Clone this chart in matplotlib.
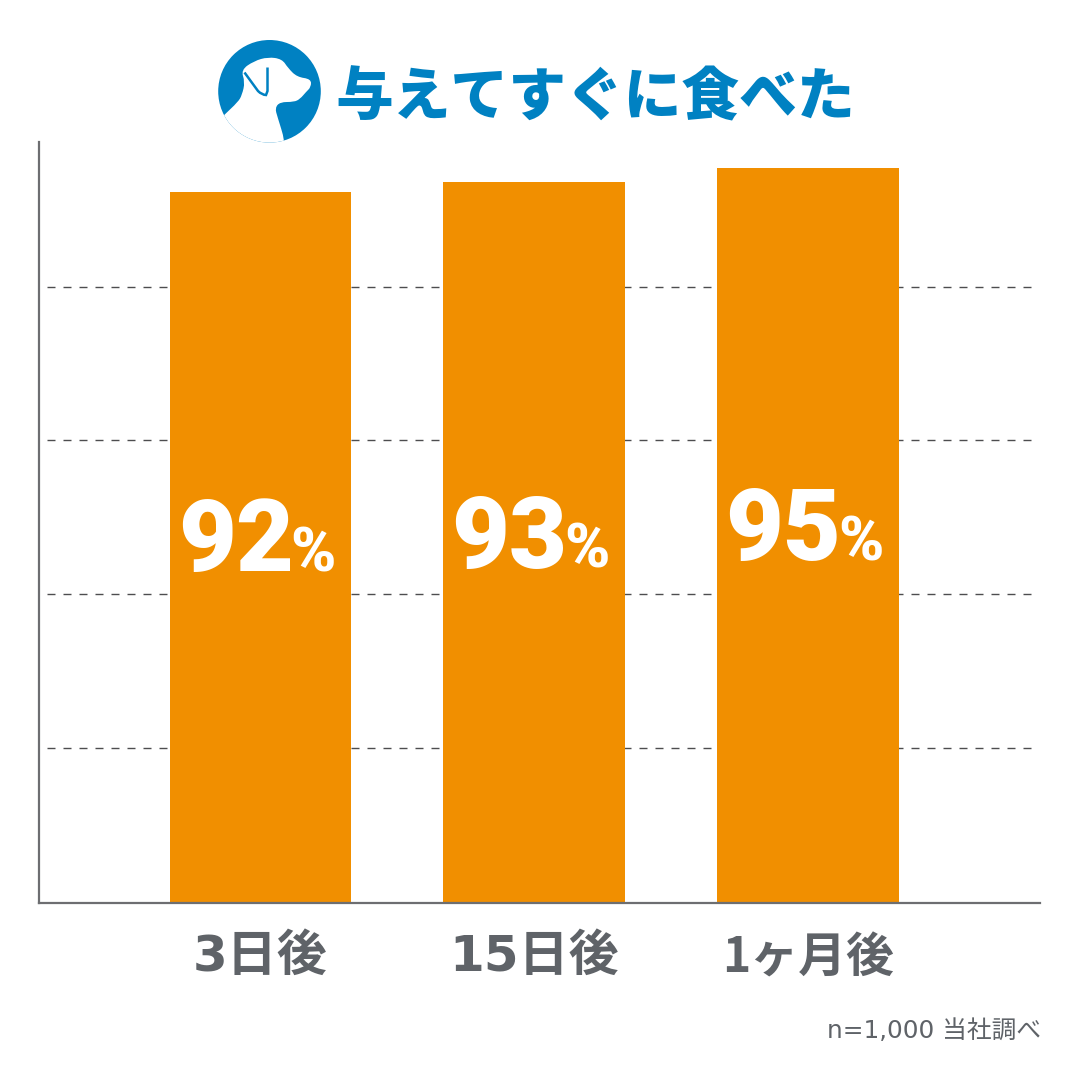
import matplotlib
matplotlib.use('Agg')
import matplotlib.pyplot as plt
from matplotlib.path import Path
from matplotlib.patches import Circle, PathPatch

JP = 'Noto Sans CJK JP'
plt.rcParams['font.family'] = [JP, 'DejaVu Sans']

# Data
categories = ['3日後', '15日後', '1ヶ月後']
values = [92, 93, 95]
bar_heights = [91.9, 93.2, 95]  # as drawn in the picture
grid_values = [20, 39.9, 59.8, 79.7]

title = '与えてすぐに食べた'
note = 'n=1,000 当社調べ'

BLUE = '#0081c2'
ORANGE = '#f18f00'
GRAY = '#5f6368'
AXIS_GRAY = '#6d6e71'

W, H = 1081, 1080
fig = plt.figure(figsize=(W / 100, H / 100), dpi=100, facecolor='white')

# plot area, 39..1040 px across and 142..902.5 px down
ax = fig.add_axes([39 / W, 1 - 902.5 / H, (1040 - 39) / W, (902.5 - 142) / H])
ax.set_xlim(-0.809, 2.848)
ax.set_ylim(0, 98.4)

ax.hlines(grid_values, -0.78, 2.826, color='#4d4d4f', lw=1.0,
          linestyle=(0, (5.76, 5.76)), zorder=1)

xs = list(range(len(categories)))
ax.bar(xs, bar_heights, width=0.663, color=ORANGE, zorder=2)

# value labels inside the bars
for x, v in zip(xs, values):
    ax.text(x - 0.09, v * 0.466, str(v), color='white', fontsize=72,
            family=['Roboto', JP], fontweight='black', ha='center', va='baseline', zorder=3)
    ax.text(x + 0.11, v * 0.466, '%', color='white', fontsize=44,
            family=['Roboto', JP], fontweight='black', ha='left', va='baseline', zorder=3)

for s in ['top', 'right']:
    ax.spines[s].set_visible(False)
for s in ['left', 'bottom']:
    ax.spines[s].set_color(AXIS_GRAY)
    ax.spines[s].set_linewidth(1.6)

ax.set_xticks(xs)
ax.set_xticklabels(categories, fontsize=36, fontweight='bold', color=GRAY,
                   family=['DejaVu Sans', JP])
last = ax.get_xticklabels()[2]
last.set_family([JP, 'DejaVu Sans'])
last.set_fontsize(34.5)
ax.set_yticks([])
ax.tick_params(axis='x', length=0, pad=22)

# overlay in pixel coordinates for the title, logo and note
ov = fig.add_axes([0, 0, 1, 1], zorder=5)
ov.set_xlim(0, W)
ov.set_ylim(H, 0)
ov.axis('off')

ov.text(595.5, 98, title, color=BLUE, fontsize=41.6, fontweight='black',
        ha='center', va='center')
ov.text(1041, 1031, note, color=GRAY, fontsize=17.8, ha='right', va='center',
        family=['DejaVu Sans', JP])


def smooth(points):
    """Closed quadratic outline through the midpoints of a polygon."""
    mids = [((a[0] + b[0]) / 2, (a[1] + b[1]) / 2)
            for a, b in zip(points, points[1:] + points[:1])]
    verts = [mids[-1]]
    codes = [Path.MOVETO]
    for p, m in zip(points, mids):
        verts += [p, m]
        codes += [Path.CURVE3, Path.CURVE3]
    return Path(verts, codes)


# dog logo, points in pixels
circle = Circle((269.5, 91.3), 51.3, facecolor=BLUE, edgecolor='none')
ov.add_patch(circle)
dog = [(224, 115), (238, 102), (242, 95), (245, 82), (241, 70), (254, 61),
       (268, 57), (282, 59), (288, 68), (297, 77), (311, 79), (311, 87),
       (306, 92), (300, 99), (294, 102), (280, 102), (275, 108), (277.5, 117),
       (285, 141), (285, 160), (224, 160), (215, 125)]
dog_patch = PathPatch(smooth(dog), facecolor='white', edgecolor='none')
ov.add_patch(dog_patch)
dog_patch.set_clip_path(circle)
ear = Path([(244.5, 72.5), (258, 91), (262, 95), (266, 95), (267.5, 91), (267.5, 67.5)],
           [Path.MOVETO, Path.LINETO, Path.CURVE3, Path.CURVE3, Path.LINETO, Path.LINETO])
ov.add_patch(PathPatch(ear, facecolor='none', edgecolor=BLUE, lw=1.8))

fig.savefig('out.png', dpi=100)
